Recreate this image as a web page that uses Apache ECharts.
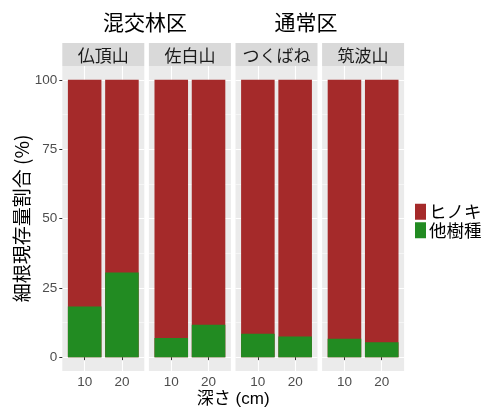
<!DOCTYPE html>
<html>
<head>
<meta charset="utf-8">
<script src="https://cdn.jsdelivr.net/npm/echarts@6/dist/echarts.min.js"></script>
<style>
  html, body { margin: 0; padding: 0; background: #fff; }
  #chart { width: 493px; height: 413px; }
</style>
</head>
<body>
<div id="chart"></div>
<script>
// Fine-root share by species, per site and soil depth
const regions = ['混交林区', '通常区'];
const sites = ['仏頂山', '佐白山', 'つくばね', '筑波山'];
const depths = ['10', '20'];
const otherShare = [[18.3, 30.5], [6.9, 11.7], [8.4, 7.4], [6.6, 5.4]];
const hinokiShare = [[81.7, 69.5], [93.1, 88.3], [91.6, 92.6], [93.4, 94.6]];
const yTicks = [0, 25, 50, 75, 100];
const yMinor = [12.5, 37.5, 62.5, 87.5];

const FONT = "'Liberation Sans', 'Noto Sans CJK JP', sans-serif";
const CJK = "'Noto Sans CJK JP', sans-serif";
const RED = '#A52A2A';
const GREEN = '#228B22';

// panel layout
const panelLeft = 62.3, panelW = 82, panelGap = 4.6, panelTop = 66, panelH = 305;
const stripTop = 43, stripH = 23;
const xMin = 0.4, xMax = 2.6;
const barPx = 0.9 * panelW / (xMax - xMin);

const grids = [], xAxes = [], yAxes = [], series = [], graphics = [];

sites.forEach((site, i) => {
  const left = panelLeft + i * (panelW + panelGap);
  grids.push({ left: left, top: panelTop, width: panelW, height: panelH,
    show: true, backgroundColor: '#EBEBEB', borderWidth: 0, containLabel: false });

  xAxes.push({
    type: 'value', gridIndex: i, min: xMin, max: xMax,
    axisLine: { show: false },
    axisTick: { show: true, customValues: [1, 2], length: 3, lineStyle: { color: '#333', width: 1 } },
    axisLabel: { show: true, customValues: [1, 2], formatter: v => depths[Math.round(v) - 1],
      color: '#4D4D4D', fontSize: 13.5, fontFamily: FONT, margin: 5 },
    splitLine: { show: true, lineStyle: { color: '#fff', width: 1.1 } }
  });

  // main y axis with major grid lines
  yAxes.push({
    type: 'value', gridIndex: i, min: -5, max: 105,
    axisLine: { show: false },
    axisTick: { show: i === 0, customValues: yTicks, length: 3, lineStyle: { color: '#333', width: 1 } },
    axisLabel: { show: i === 0, customValues: yTicks, color: '#4D4D4D', fontSize: 13.5,
      fontFamily: FONT, margin: 5 },
    splitLine: { show: true, lineStyle: { color: '#fff', width: 1.1 } },
    name: i === 0 ? '細根現存量割合 (%)' : '',
    nameLocation: 'middle', nameGap: 31, nameRotate: 90,
    nameTextStyle: { fontSize: 19, color: '#000', fontFamily: CJK }
  });
  // second y axis carrying the minor grid lines
  yAxes.push({
    type: 'value', gridIndex: i, min: -5, max: 105,
    axisLine: { show: false },
    axisTick: { show: false, customValues: yMinor },
    axisLabel: { show: false, customValues: yMinor },
    splitLine: { show: true, lineStyle: { color: '#fff', width: 0.5 } }
  });

  // Hinoki segment sits on top of the other-species segment:
  // draw the full column in red, then the lower part in green over it.
  series.push({
    name: 'ヒノキ', type: 'bar', xAxisIndex: i, yAxisIndex: 2 * i,
    barWidth: barPx, barGap: '-100%', itemStyle: { color: RED }, z: 3,
    data: hinokiShare[i].map((v, k) => [k + 1, otherShare[i][k] + v])
  });
  series.push({
    name: '他樹種', type: 'bar', xAxisIndex: i, yAxisIndex: 2 * i,
    barWidth: barPx, barGap: '-100%', itemStyle: { color: GREEN }, z: 4,
    data: otherShare[i].map((v, k) => [k + 1, v])
  });

  // facet strip
  graphics.push({ type: 'rect', shape: { x: left, y: stripTop, width: panelW, height: stripH },
    style: { fill: '#D9D9D9' }, silent: true });
  graphics.push({ type: 'text', x: left + panelW / 2, y: stripTop + stripH / 2 + 1,
    style: { text: site, fill: '#1A1A1A', font: '17px ' + CJK, align: 'center', verticalAlign: 'middle' },
    silent: true });
});

// region headings over pairs of panels
graphics.push({ type: 'text', x: 145, y: 22,
  style: { text: regions[0], fill: '#000', font: '21px ' + CJK, align: 'center', verticalAlign: 'middle' } });
graphics.push({ type: 'text', x: 306, y: 22,
  style: { text: regions[1], fill: '#000', font: '21px ' + CJK, align: 'center', verticalAlign: 'middle' } });
// shared x-axis title
graphics.push({ type: 'text', x: panelLeft + (4 * panelW + 3 * panelGap) / 2, y: 399,
  style: { text: '深さ (cm)', fill: '#000', font: '17px ' + FONT, align: 'center', verticalAlign: 'middle' } });

const chart = echarts.init(document.getElementById('chart'), null, { renderer: 'canvas' });
chart.setOption({
  animation: false,
  backgroundColor: '#fff',
  grid: grids,
  xAxis: xAxes,
  yAxis: yAxes,
  series: series,
  graphic: graphics,
  legend: {
    data: ['ヒノキ', '他樹種'], orient: 'vertical', left: 415, top: 203,
    itemWidth: 11, itemHeight: 16, itemGap: 1, icon: 'rect', padding: 0,
    textStyle: { fontSize: 17.5, color: '#000', fontFamily: CJK, padding: [0, 0, 0, -2] }
  }
});
</script>
</body>
</html>
